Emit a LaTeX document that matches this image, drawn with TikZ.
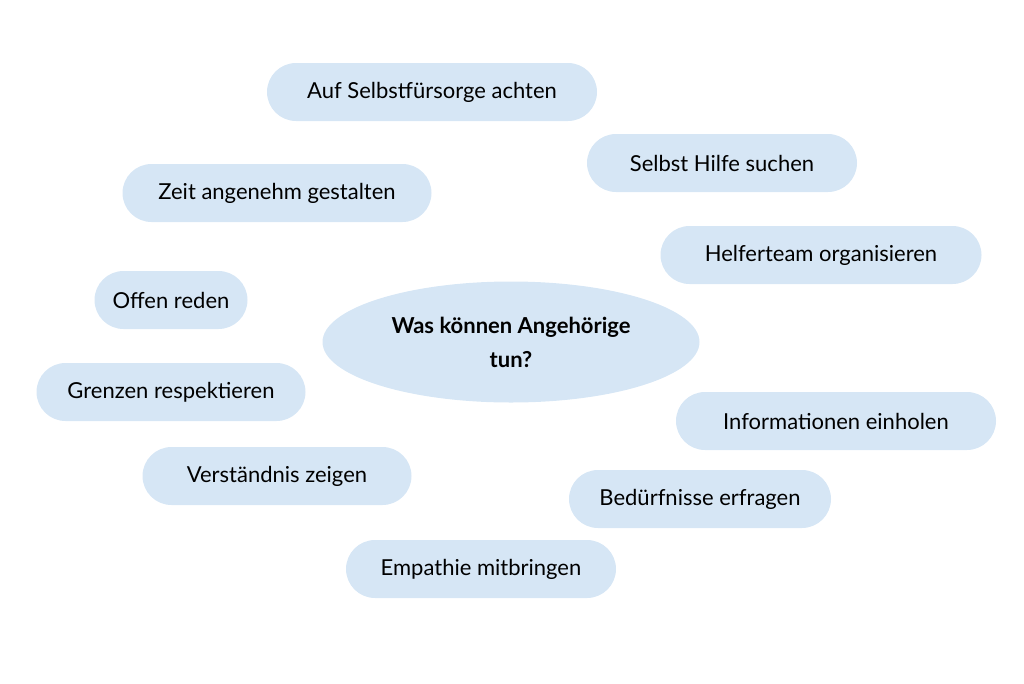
\documentclass[tikz,border=0pt]{standalone}
\usepackage{fontspec}
\setmainfont{Lato}
\usetikzlibrary{shapes.geometric}
\definecolor{pill}{HTML}{D6E6F5}
\begin{document}
\begin{tikzpicture}[x=1pt,y=-1pt,
  pillbox/.style={fill=pill,rounded corners=29pt,minimum height=58pt,inner sep=0pt,font=\fontsize{22}{26}\selectfont,text=black},
  centre/.style={ellipse,fill=pill,minimum width=377pt,minimum height=121pt,inner sep=0pt,align=center,font=\fontsize{22}{34}\selectfont\bfseries}]
\useasboundingbox (0,0) rectangle (1024,683);
\node[centre] (c) at (511,342) {Was können Angehörige\\tun?};
\node[pillbox,minimum width=330pt] (a) at (432,92) {Auf Selbstfürsorge achten};
\node[pillbox,minimum width=270pt] (b) at (722,163) {Selbst Hilfe suchen};
\node[pillbox,minimum width=309pt] (d) at (277,193) {Zeit angenehm gestalten};
\node[pillbox,minimum width=321pt] (e) at (821,255) {Helferteam organisieren};
\node[pillbox,minimum width=153pt] (f) at (171,300) {Offen reden};
\node[pillbox,minimum width=269pt] (g) at (171,392) {Grenzen respektieren};
\node[pillbox,minimum width=320pt] (h) at (836,421) {Informationen einholen};
\node[pillbox,minimum width=269pt] (i) at (277,476) {Verständnis zeigen};
\node[pillbox,minimum width=262pt] (j) at (700,499) {Bedürfnisse erfragen};
\node[pillbox,minimum width=270pt] (k) at (481,569) {Empathie mitbringen};
\end{tikzpicture}
\end{document}
